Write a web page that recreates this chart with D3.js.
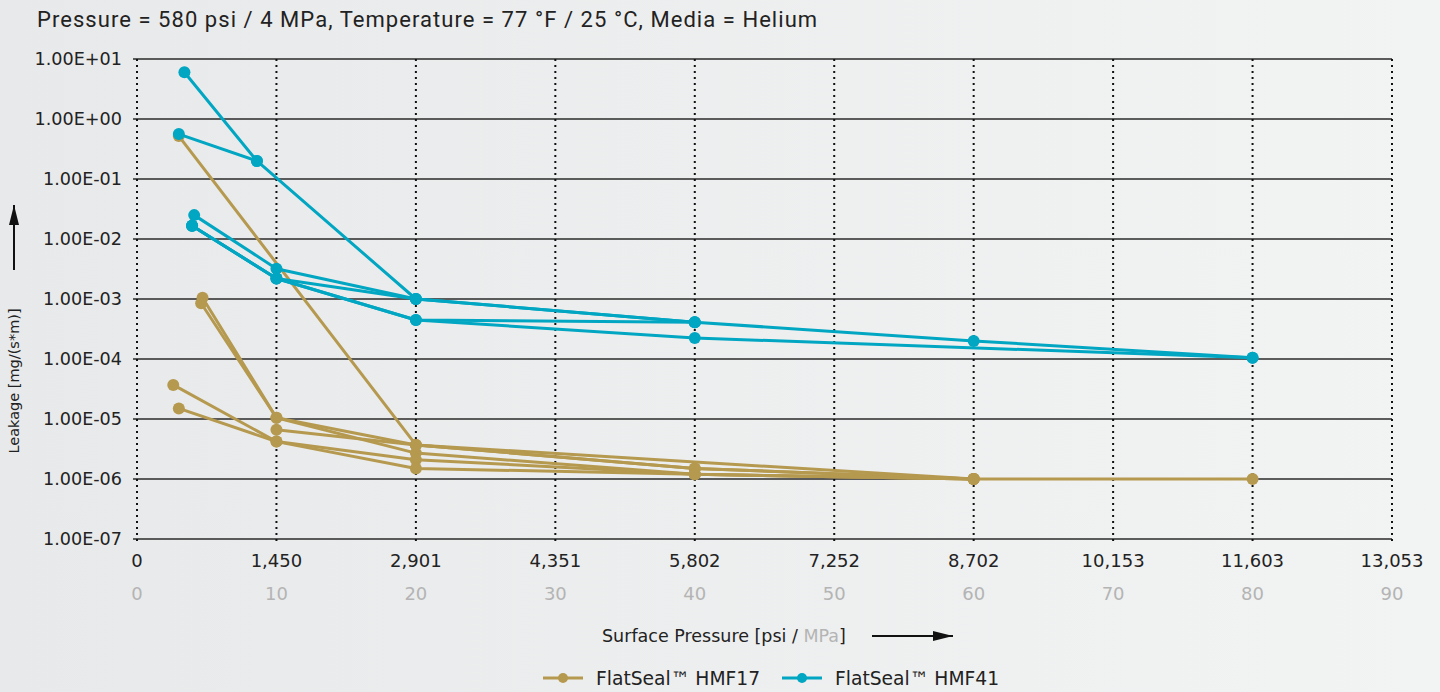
<!DOCTYPE html>
<html>
<head>
<meta charset="utf-8">
<script src="https://cdn.jsdelivr.net/npm/d3@7"></script>
<style>
  body { margin: 0; background: #ececed; }
  svg { display: block; }
</style>
</head>
<body>
<div id="graphic"></div>
<script>
// axis values
var mpaTicks = [0, 10, 20, 30, 40, 50, 60, 70, 80, 90];
var psiLabels = ["0", "1,450", "2,901", "4,351", "5,802", "7,252", "8,702", "10,153", "11,603", "13,053"];
var leakTicks = [1e1, 1e0, 1e-1, 1e-2, 1e-3, 1e-4, 1e-5, 1e-6, 1e-7];
var leakLabels = ["1.00E+01", "1.00E+00", "1.00E-01", "1.00E-02", "1.00E-03", "1.00E-04", "1.00E-05", "1.00E-06", "1.00E-07"];

// measurements [MPa, leakage mg/(s*m)]
var hmf17 = [
  [[3.0, 0.52], [20, 3.7e-6], [60, 1e-6], [80, 1e-6]],
  [[4.7, 1.05e-3], [10, 1.05e-5], [20, 3.7e-6], [40, 1.5e-6], [60, 1e-6]],
  [[4.6, 8.5e-4], [10, 1.05e-5], [20, 2.7e-6], [40, 1.2e-6], [60, 1e-6]],
  [[10, 6.6e-6], [20, 3.7e-6], [40, 1.5e-6], [60, 1e-6]],
  [[2.6, 3.7e-5], [10, 4.2e-6], [20, 2.1e-6], [40, 1.2e-6], [60, 1e-6]],
  [[3.0, 1.5e-5], [10, 4.2e-6], [20, 1.5e-6], [40, 1.2e-6], [60, 1e-6]]
];
var hmf41 = [
  [[3.4, 6.0], [8.6, 0.2], [20, 1e-3], [40, 4.1e-4], [60, 2e-4], [80, 1.05e-4]],
  [[3.0, 0.56], [8.6, 0.2]],
  [[4.1, 0.025], [10, 3.2e-3], [20, 1e-3], [40, 4.1e-4]],
  [[3.95, 0.0166], [10, 2.2e-3], [20, 1e-3]],
  [[3.95, 0.0166], [10, 2.2e-3], [20, 4.47e-4], [40, 4.1e-4]],
  [[3.95, 0.0166], [10, 2.2e-3], [20, 4.47e-4], [40, 2.24e-4], [80, 1.05e-4]]
];
var seriesNames = ["FlatSeal\u2122 HMF17", "FlatSeal\u2122 HMF41"];
var seriesColors = ["#b5994f", "#00a6c2"];

var graphic = new Object;

graphic.create = function() {
  var width = 1440, height = 692;
  var svg = d3.select("#graphic").append("svg").attr("width", width).attr("height", height);
  var font = "'DejaVu Sans', sans-serif";

  var defs = svg.append("defs");
  var bg = defs.append("linearGradient").attr("id", "bg");
  bg.append("stop").attr("offset", "0%").attr("stop-color", "#e8e9ea");
  bg.append("stop").attr("offset", "100%").attr("stop-color", "#f2f3f3");
  svg.append("rect").attr("width", width).attr("height", height).attr("fill", "url(#bg)");

  defs.append("marker").attr("id", "arrow").attr("viewBox", "0 0 20 12")
    .attr("refX", 20).attr("refY", 6).attr("markerWidth", 20).attr("markerHeight", 12)
    .attr("markerUnits", "userSpaceOnUse").attr("orient", "auto")
    .append("path").attr("d", "M0,1L20,6L0,11Z").attr("fill", "#111");

  var x = d3.scaleLinear().domain([0, 90]).range([137, 1392]);
  var y = d3.scaleLog().domain([1e-7, 1e1]).range([539, 59]);

  svg.append("text").attr("x", 37).attr("y", 27)
    .attr("font-family", "Roboto, sans-serif").attr("font-size", 22).attr("letter-spacing", 1.05)
    .attr("fill", "#222").text("Pressure = 580 psi / 4 MPa, Temperature = 77 \u00b0F / 25 \u00b0C, Media = Helium");

  // horizontal grid
  svg.append("g").selectAll("line").data(leakTicks).enter().append("line")
    .attr("x1", x(0) - 4).attr("x2", x(90))
    .attr("y1", function(d) { return y(d); }).attr("y2", function(d) { return y(d); })
    .attr("stroke", "#2a2a2a").attr("stroke-width", 1.5);

  // vertical dotted grid
  svg.append("g").selectAll("line").data(mpaTicks).enter().append("line")
    .attr("x1", function(d) { return x(d); }).attr("x2", function(d) { return x(d); })
    .attr("y1", y(1e1)).attr("y2", y(1e-7) + 6)
    .attr("stroke", "#111").attr("stroke-width", 2).attr("stroke-dasharray", "2,4");

  // y labels
  svg.append("g").selectAll("text").data(leakTicks).enter().append("text")
    .attr("x", 122).attr("y", function(d) { return y(d) + 6; })
    .attr("text-anchor", "end").attr("font-family", font).attr("font-size", 17.6).attr("fill", "#222")
    .text(function(d, i) { return leakLabels[i]; });

  // x labels psi / MPa
  svg.append("g").selectAll("text").data(mpaTicks).enter().append("text")
    .attr("x", function(d) { return x(d); }).attr("y", 567)
    .attr("text-anchor", "middle").attr("font-family", font).attr("font-size", 18).attr("fill", "#222")
    .text(function(d, i) { return psiLabels[i]; });
  svg.append("g").selectAll("text").data(mpaTicks).enter().append("text")
    .attr("x", function(d) { return x(d); }).attr("y", 600)
    .attr("text-anchor", "middle").attr("font-family", font).attr("font-size", 18).attr("fill", "#b4b4b4")
    .text(function(d) { return d; });

  // axis titles
  var xt = svg.append("text").attr("x", 602).attr("y", 642)
    .attr("font-family", font).attr("font-size", 17.5).attr("fill", "#222");
  xt.append("tspan").text("Surface Pressure [psi / ");
  xt.append("tspan").attr("fill", "#b4b4b4").text("MPa");
  xt.append("tspan").text("]");
  svg.append("line").attr("x1", 872).attr("x2", 953).attr("y1", 636).attr("y2", 636)
    .attr("stroke", "#111").attr("stroke-width", 2).attr("marker-end", "url(#arrow)");

  svg.append("text").attr("transform", "translate(19,381) rotate(-90)")
    .attr("text-anchor", "middle").attr("font-family", font).attr("font-size", 14.5).attr("fill", "#222")
    .text("Leakage [mg/(s*m)]");
  svg.append("line").attr("x1", 14).attr("x2", 14).attr("y1", 270).attr("y2", 205)
    .attr("stroke", "#111").attr("stroke-width", 2).attr("marker-end", "url(#arrow)");

  // data
  var line = d3.line().x(function(d) { return x(d[0]); }).y(function(d) { return y(d[1]); });
  [hmf17, hmf41].forEach(function(group, gi) {
    var g = svg.append("g");
    g.selectAll("path").data(group).enter().append("path")
      .attr("d", line).attr("fill", "none")
      .attr("stroke", seriesColors[gi]).attr("stroke-width", 3).attr("stroke-linejoin", "round");
    var pts = [];
    group.forEach(function(s) { s.forEach(function(p) { pts.push(p); }); });
    g.selectAll("circle").data(pts).enter().append("circle")
      .attr("cx", function(d) { return x(d[0]); }).attr("cy", function(d) { return y(d[1]); })
      .attr("r", 6).attr("fill", seriesColors[gi]);
  });

  // legend
  var leg = svg.append("g").selectAll("g").data(seriesNames).enter().append("g")
    .attr("transform", function(d, i) { return "translate(" + (543 + i * 239) + ",678)"; });
  leg.append("line").attr("x1", 0).attr("x2", 40).attr("stroke", function(d, i) { return seriesColors[i]; })
    .attr("stroke-width", 3);
  leg.append("circle").attr("cx", 20).attr("r", 5).attr("fill", function(d, i) { return seriesColors[i]; });
  leg.append("text").attr("x", 53).attr("y", 7).attr("font-family", font).attr("font-size", 18.7)
    .attr("fill", "#222").text(function(d) { return d; });
};

graphic.create();
</script>
</body>
</html>
